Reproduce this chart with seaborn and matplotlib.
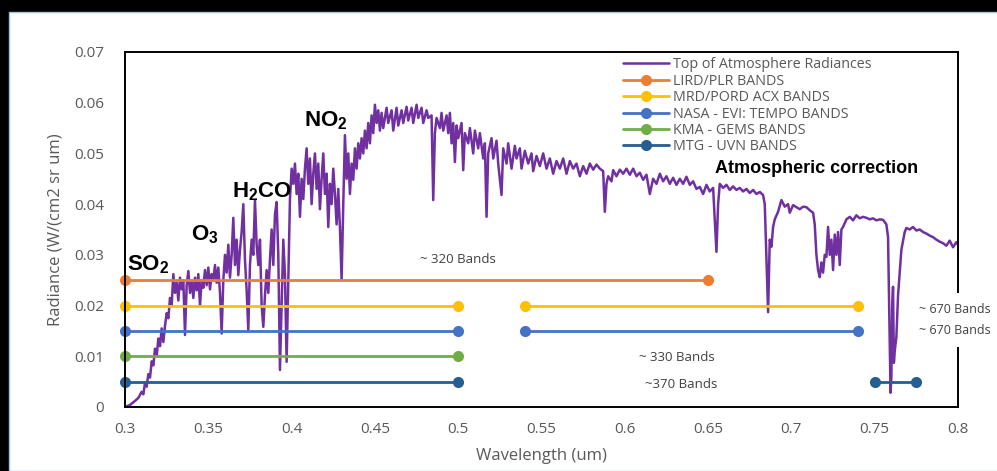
import numpy as np
import pandas as pd
import seaborn as sns
import matplotlib.pyplot as plt
from matplotlib.patches import Rectangle

# Top of atmosphere radiance spectrum
wavelength = [
    0.300, 0.303, 0.306, 0.308, 0.310, 0.311, 0.312, 0.313, 0.314, 0.315,
    0.316, 0.317, 0.318, 0.319, 0.320, 0.321, 0.322, 0.323, 0.324, 0.325,
    0.326, 0.327, 0.328, 0.329, 0.330, 0.331, 0.332, 0.333, 0.334, 0.335,
    0.336, 0.337, 0.338, 0.339, 0.340, 0.341, 0.342, 0.343, 0.344, 0.345,
    0.346, 0.347, 0.348, 0.349, 0.350, 0.351, 0.352, 0.353, 0.354, 0.355,
    0.356, 0.357, 0.358, 0.359, 0.360, 0.361, 0.362, 0.363, 0.364, 0.365,
    0.366, 0.367, 0.368, 0.369, 0.370, 0.371, 0.372, 0.373, 0.374, 0.375,
    0.376, 0.377, 0.378, 0.379, 0.380, 0.381, 0.382, 0.383, 0.384, 0.385,
    0.386, 0.387, 0.388, 0.389, 0.390, 0.391, 0.392, 0.393, 0.394, 0.395,
    0.396, 0.397, 0.398, 0.399, 0.400, 0.401, 0.402, 0.403, 0.404, 0.405,
    0.406, 0.407, 0.408, 0.409, 0.410, 0.411, 0.412, 0.413, 0.414, 0.415,
    0.416, 0.417, 0.418, 0.419, 0.420, 0.421, 0.422, 0.423, 0.424, 0.425,
    0.426, 0.427, 0.428, 0.429, 0.430, 0.431, 0.432, 0.433, 0.434, 0.435,
    0.436, 0.437, 0.438, 0.439, 0.440, 0.441, 0.442, 0.443, 0.444, 0.445,
    0.446, 0.447, 0.448, 0.449, 0.450, 0.451, 0.452, 0.453, 0.454, 0.455,
    0.457, 0.458, 0.460, 0.461, 0.463, 0.464, 0.466, 0.467, 0.469, 0.470,
    0.472, 0.473, 0.475, 0.476, 0.478, 0.479, 0.481, 0.482, 0.484, 0.485,
    0.486, 0.487, 0.489, 0.490, 0.491, 0.493, 0.494, 0.495, 0.496, 0.497,
    0.498, 0.499, 0.500, 0.502, 0.503, 0.504, 0.506, 0.507, 0.509, 0.510,
    0.512, 0.513, 0.515, 0.516, 0.517, 0.518, 0.520, 0.521, 0.523, 0.524,
    0.526, 0.527, 0.529, 0.530, 0.532, 0.534, 0.535, 0.537, 0.538, 0.540,
    0.542, 0.544, 0.545, 0.547, 0.549, 0.551, 0.553, 0.555, 0.557, 0.559,
    0.561, 0.563, 0.565, 0.567, 0.569, 0.571, 0.573, 0.575, 0.577, 0.579,
    0.581, 0.583, 0.585, 0.587, 0.588, 0.589, 0.590, 0.592, 0.593, 0.595,
    0.597, 0.599, 0.601, 0.603, 0.605, 0.607, 0.609, 0.611, 0.613, 0.615,
    0.617, 0.619, 0.621, 0.623, 0.625, 0.627, 0.629, 0.631, 0.633, 0.635,
    0.637, 0.639, 0.641, 0.643, 0.645, 0.647, 0.649, 0.651, 0.653, 0.655,
    0.656, 0.657, 0.659, 0.661, 0.663, 0.665, 0.667, 0.669, 0.671, 0.673,
    0.675, 0.677, 0.679, 0.681, 0.683, 0.684, 0.686, 0.687, 0.688, 0.689,
    0.690, 0.692, 0.694, 0.696, 0.698, 0.699, 0.701, 0.703, 0.705, 0.707,
    0.709, 0.711, 0.713, 0.714, 0.715, 0.716, 0.717, 0.718, 0.719, 0.720,
    0.721, 0.722, 0.723, 0.724, 0.725, 0.726, 0.727, 0.728, 0.729, 0.730,
    0.731, 0.733, 0.735, 0.737, 0.739, 0.741, 0.743, 0.745, 0.747, 0.749,
    0.751, 0.753, 0.755, 0.757, 0.758, 0.7585, 0.7595, 0.760, 0.7605, 0.761,
    0.7615, 0.762, 0.763, 0.764, 0.766, 0.768, 0.769, 0.771, 0.773, 0.775,
    0.777, 0.779, 0.781, 0.783, 0.785, 0.787, 0.789, 0.791, 0.793, 0.795,
    0.797, 0.799, 0.800,
]
radiance = [
    0.0000, 0.0004, 0.0012, 0.0018, 0.0030, 0.0025, 0.0048, 0.0040, 0.0065, 0.0058,
    0.0090, 0.0082, 0.0115, 0.0100, 0.0135, 0.0120, 0.0155, 0.0128, 0.0160, 0.0185,
    0.0175, 0.0215, 0.0200, 0.0262, 0.0225, 0.0245, 0.0210, 0.0255, 0.0232, 0.0250,
    0.0142, 0.0240, 0.0268, 0.0225, 0.0250, 0.0215, 0.0255, 0.0230, 0.0262, 0.0200,
    0.0250, 0.0235, 0.0270, 0.0240, 0.0275, 0.0232, 0.0262, 0.0250, 0.0280, 0.0245,
    0.0275, 0.0225, 0.0145, 0.0250, 0.0300, 0.0265, 0.0320, 0.0255, 0.0300, 0.0373,
    0.0280, 0.0330, 0.0260, 0.0310, 0.0345, 0.0400, 0.0290, 0.0230, 0.0152, 0.0280,
    0.0330, 0.0300, 0.0408, 0.0320, 0.0280, 0.0330, 0.0200, 0.0158, 0.0220, 0.0270,
    0.0225, 0.0290, 0.0350, 0.0280, 0.0380, 0.0404, 0.0300, 0.0073, 0.0200, 0.0330,
    0.0260, 0.0089, 0.0250, 0.0410, 0.0470, 0.0440, 0.0480, 0.0420, 0.0460, 0.0375,
    0.0450, 0.0410, 0.0470, 0.0510, 0.0440, 0.0490, 0.0400, 0.0460, 0.0500, 0.0430,
    0.0480, 0.0390, 0.0450, 0.0500, 0.0420, 0.0460, 0.0355, 0.0440, 0.0400, 0.0470,
    0.0420, 0.0360, 0.0430, 0.0353, 0.0250, 0.0400, 0.0536, 0.0450, 0.0500, 0.0420,
    0.0480, 0.0448, 0.0510, 0.0470, 0.0520, 0.0490, 0.0530, 0.0500, 0.0545, 0.0510,
    0.0560, 0.0520, 0.0575, 0.0540, 0.0596, 0.0560, 0.0585, 0.0545, 0.0580, 0.0550,
    0.0590, 0.0560, 0.0585, 0.0545, 0.0590, 0.0555, 0.0585, 0.0560, 0.0592, 0.0565,
    0.0590, 0.0560, 0.0596, 0.0570, 0.0590, 0.0560, 0.0585, 0.0570, 0.0575, 0.0408,
    0.0540, 0.0570, 0.0550, 0.0580, 0.0545, 0.0575, 0.0540, 0.0580, 0.0520, 0.0560,
    0.0483, 0.0555, 0.0530, 0.0560, 0.0467, 0.0540, 0.0520, 0.0550, 0.0500, 0.0545,
    0.0510, 0.0540, 0.0490, 0.0520, 0.0375, 0.0500, 0.0530, 0.0490, 0.0525, 0.0480,
    0.0418, 0.0510, 0.0480, 0.0520, 0.0470, 0.0515, 0.0490, 0.0510, 0.0470, 0.0505,
    0.0480, 0.0500, 0.0465, 0.0495, 0.0475, 0.0500, 0.0470, 0.0490, 0.0460, 0.0485,
    0.0470, 0.0490, 0.0460, 0.0485, 0.0470, 0.0480, 0.0455, 0.0475, 0.0460, 0.0480,
    0.0468, 0.0478, 0.0470, 0.0465, 0.0385, 0.0440, 0.0455, 0.0445, 0.0467, 0.0455,
    0.0468, 0.0460, 0.0470, 0.0458, 0.0470, 0.0455, 0.0462, 0.0448, 0.0458, 0.0420,
    0.0450, 0.0440, 0.0460, 0.0445, 0.0455, 0.0440, 0.0452, 0.0438, 0.0450, 0.0440,
    0.0454, 0.0438, 0.0445, 0.0430, 0.0434, 0.0420, 0.0438, 0.0425, 0.0432, 0.0306,
    0.0400, 0.0440, 0.0432, 0.0438, 0.0428, 0.0435, 0.0428, 0.0432, 0.0425, 0.0430,
    0.0422, 0.0428, 0.0420, 0.0424, 0.0418, 0.0400, 0.0187, 0.0330, 0.0316, 0.0355,
    0.0370, 0.0385, 0.0408, 0.0395, 0.0400, 0.0383, 0.0398, 0.0394, 0.0390, 0.0395,
    0.0394, 0.0388, 0.0383, 0.0360, 0.0300, 0.0270, 0.0256, 0.0285, 0.0265, 0.0300,
    0.0296, 0.0355, 0.0300, 0.0330, 0.0270, 0.0340, 0.0300, 0.0345, 0.0280, 0.0350,
    0.0355, 0.0370, 0.0375, 0.0368, 0.0378, 0.0372, 0.0375, 0.0373, 0.0370, 0.0372,
    0.0368, 0.0370, 0.0369, 0.0360, 0.0335, 0.0230, 0.0028, 0.0060, 0.0200, 0.0237,
    0.0087, 0.0110, 0.0138, 0.0220, 0.0310, 0.0345, 0.0353, 0.0350, 0.0355, 0.0348,
    0.0350, 0.0345, 0.0342, 0.0338, 0.0335, 0.0330, 0.0326, 0.0323, 0.0318, 0.0328,
    0.0315, 0.0325, 0.0320,
]

# Instrument bands: level on the chart and wavelength ranges covered
band_names = ["LIRD/PLR BANDS", "MRD/PORD ACX BANDS", "NASA - EVI: TEMPO BANDS",
              "KMA - GEMS BANDS", "MTG - UVN BANDS"]
band_levels = [0.025, 0.02, 0.015, 0.01, 0.005]
band_ranges = [
    [(0.30, 0.65)],
    [(0.30, 0.50), (0.54, 0.74)],
    [(0.30, 0.50), (0.54, 0.74)],
    [(0.30, 0.50)],
    [(0.30, 0.50), (0.75, 0.775)],
]
band_colors = ["#ED7D31", "#FFC000", "#4472C4", "#70AD47", "#255E91"]

x_ticks = [0.3, 0.35, 0.4, 0.45, 0.5, 0.55, 0.6, 0.65, 0.7, 0.75, 0.8]
x_tick_labels = ["0.3", "0.35", "0.4", "0.45", "0.5", "0.55", "0.6", "0.65", "0.7", "0.75", "0.8"]
y_ticks = [0, 0.01, 0.02, 0.03, 0.04, 0.05, 0.06, 0.07]
y_tick_labels = ["0", "0.01", "0.02", "0.03", "0.04", "0.05", "0.06", "0.07"]

sns.set_style("white")
plt.rcParams["font.family"] = ["Open Sans", "DejaVu Sans"]
plt.rcParams["mathtext.fontset"] = "custom"
plt.rcParams["mathtext.bf"] = "Liberation Sans:bold"
plt.rcParams["mathtext.rm"] = "Liberation Sans"

gray = "#595959"

fig = plt.figure(figsize=(9.97, 4.71), dpi=100)
fig.patch.set_facecolor("black")
# white page inside the black screen frame
fig.patches.append(Rectangle((9 / 997, 0), 1, 1 - 12 / 471, transform=fig.transFigure,
                             facecolor="white", edgecolor="#9DC3E6", lw=1.0, zorder=-10))

ax = fig.add_axes([0.1254, 0.1359, 0.8355, 0.7537])
ax.set_facecolor("white")

spec = pd.DataFrame({"Wavelength": wavelength, "Radiance": radiance})
sns.lineplot(data=spec, x="Wavelength", y="Radiance", color="#7030A0", lw=1.8,
             estimator=None, sort=False, label="Top of Atmosphere Radiances", ax=ax)

for name, level, ranges, col in zip(band_names, band_levels, band_ranges, band_colors):
    for i, (lo, hi) in enumerate(ranges):
        seg = pd.DataFrame({"Wavelength": [lo, hi], "Radiance": [level, level]})
        sns.lineplot(data=seg, x="Wavelength", y="Radiance", color=col, lw=2,
                     marker="o", markersize=8, markeredgewidth=0,
                     estimator=None, sort=False, clip_on=False,
                     label=name if i == 0 else None, ax=ax)

ax.set_xlim(0.3, 0.8)
ax.set_ylim(0, 0.07)
ax.set_xticks(x_ticks)
ax.set_xticklabels(x_tick_labels)
ax.set_yticks(y_ticks)
ax.set_yticklabels(y_tick_labels)
ax.tick_params(axis="x", direction="in", length=5, width=1.2, color="black",
               labelsize=11, labelcolor=gray, pad=11)
ax.tick_params(axis="y", length=0, labelsize=11, labelcolor=gray, pad=15)
for s in ax.spines.values():
    s.set_visible(True)
    s.set_color("black")
    s.set_linewidth(1.4)

ax.set_xlabel("Wavelength (um)", fontsize=12, color=gray, labelpad=8)
ax.set_ylabel("Radiance (W/(cm2 sr um)", fontsize=12, color=gray, labelpad=8)

leg = ax.legend(loc="upper left", bbox_to_anchor=(0.598, 0.985), frameon=False,
                fontsize=10.3, labelspacing=0.1, handlelength=3.2, handletextpad=0.3,
                borderpad=0, borderaxespad=0)
for t in leg.get_texts():
    t.set_color(gray)

# gas labels
bold = dict(fontsize=16, fontweight="bold", family="Liberation Sans", color="black",
            ha="left", va="baseline")
ax.text(0.3012, 0.0270, r"SO$_\mathbf{2}$", **bold)
ax.text(0.3396, 0.0329, r"O$_\mathbf{3}$", **bold)
ax.text(0.3642, 0.0414, r"H$_\mathbf{2}$CO", **bold)
ax.text(0.4074, 0.0554, r"NO$_\mathbf{2}$", **bold)
ax.text(0.6541, 0.0461, "Atmospheric correction", fontsize=13, fontweight="bold",
        family="Liberation Sans", color="black", ha="left", va="baseline")

# band count notes
note = dict(fontsize=9.5, color="#404040", ha="center", va="center")
ax.text(0.500, 0.0290, "~ 320 Bands", **note)
ax.text(0.631, 0.0097, "~ 330 Bands", **note)
ax.text(0.634, 0.0045, "~370 Bands", **note)
ax.text(0.798, 0.0172, "~ 670 Bands\n~ 670 Bands", fontsize=9, color="#404040",
        ha="center", va="center", linespacing=1.75, zorder=5, clip_on=False,
        bbox=dict(boxstyle="square,pad=0.8", facecolor="white", edgecolor="none"))

fig.savefig("out.png", dpi=100, facecolor=fig.get_facecolor())
